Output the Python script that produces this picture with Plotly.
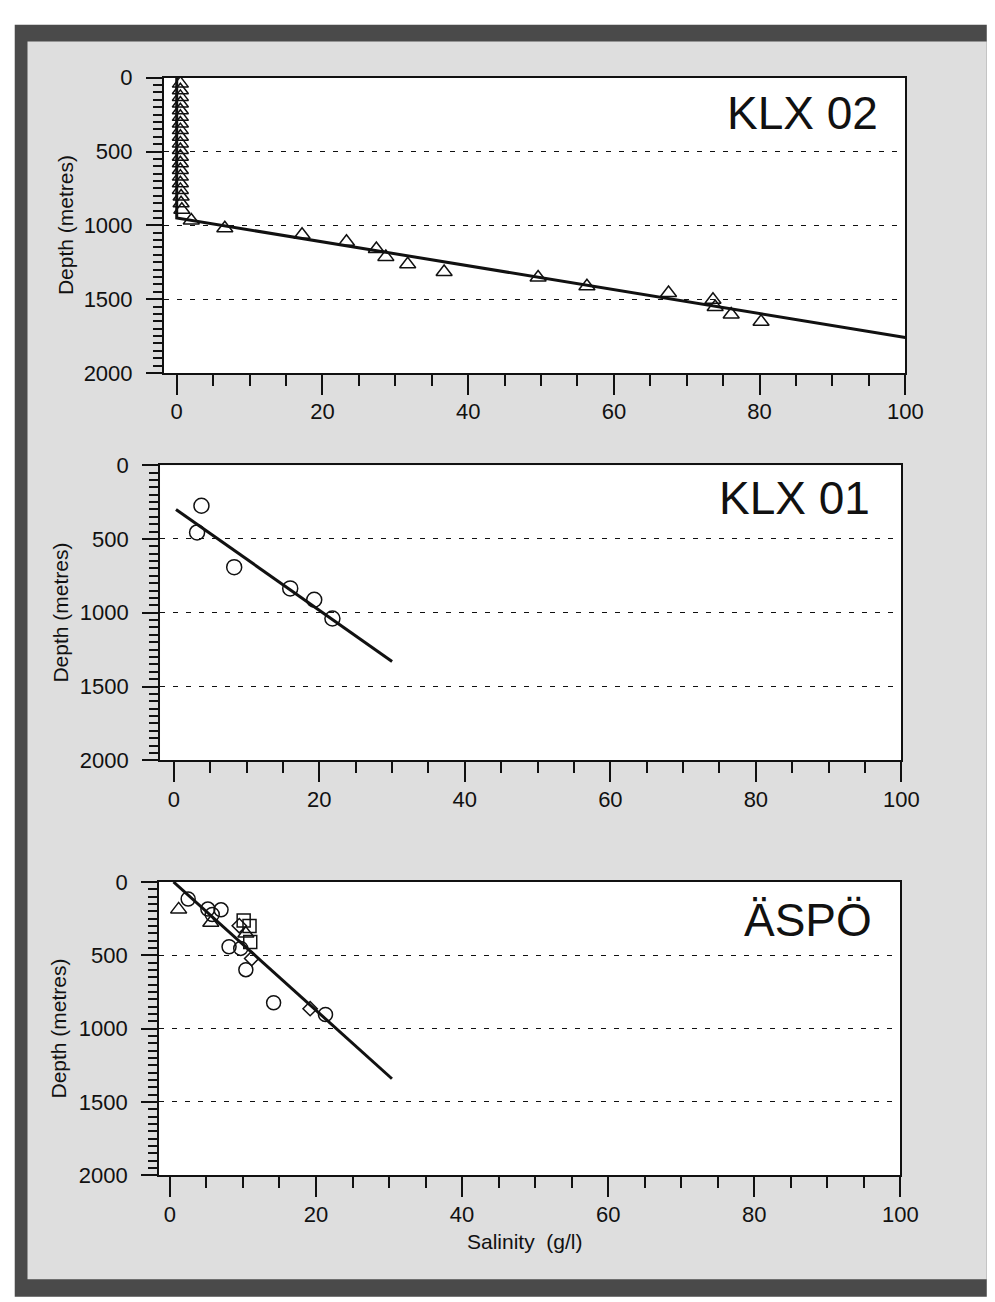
import plotly.graph_objects as go

W, H = 995, 1302

# ---------------- data ----------------
# KLX 02
klx02_col_sal = [0.5, 0.5, 0.5, 0.5, 0.5, 0.5, 0.5, 0.5, 0.5, 0.5,
                 0.5, 0.5, 0.5, 0.5, 0.5, 0.5, 0.5, 0.6, 0.6, 0.7]
klx02_col_depth = [40, 85, 130, 175, 220, 265, 310, 355, 400, 445,
                   490, 535, 580, 625, 670, 715, 760, 805, 850, 895]
klx02_sal = [2.0, 6.6, 17.2, 23.3, 27.4, 28.7, 31.7, 36.7, 49.6, 56.3,
             67.5, 73.6, 73.9, 76.1, 80.2]
klx02_depth = [967, 1020, 1064, 1111, 1160, 1214, 1264, 1316, 1353, 1413,
               1458, 1504, 1553, 1604, 1653]
klx02_fit_sal = [0, 0, 100]
klx02_fit_depth = [0, 950, 1760]

# KLX 01
klx01_sal = [3.8, 3.2, 8.3, 16.0, 19.3, 21.8]
klx01_depth = [275, 456, 691, 835, 912, 1039]
klx01_fit_sal = [0.3, 30.0]
klx01_fit_depth = [300, 1330]

# ÄSPÖ
aspo_circ_sal = [2.5, 5.2, 7.0, 5.8, 8.1, 9.7, 10.4, 14.2, 21.3]
aspo_circ_depth = [116, 185, 190, 222, 442, 453, 598, 824, 904]
aspo_tri_sal = [1.2, 5.6, 10.4]
aspo_tri_depth = [187, 278, 352]
aspo_sq_sal = [10.1, 10.9, 11.0]
aspo_sq_depth = [262, 300, 410]
aspo_dia_sal = [9.5, 11.2, 19.2]
aspo_dia_depth = [298, 522, 864]
aspo_fit_sal = [0.5, 30.4]
aspo_fit_depth = [0, 1342]

x_ticks = [0, 20, 40, 60, 80, 100]
y_ticks = [0, 500, 1000, 1500, 2000]
panel_names = ["KLX 02", "KLX 01", "ÄSPÖ"]

# ---------------- layout geometry (pixels) ----------------
panels = [
    dict(x0=167, x1=922, y0=67, y1=368, xmin=-1.75),
    dict(x0=163, x1=918, y0=462, y1=763, xmin=-1.89),
    dict(x0=162, x1=917, y0=887, y1=1186, xmin=-1.48),
]

FONT = "Liberation Sans, Arial, Helvetica, sans-serif"
INK = "#111111"

def fx(px):
    return px / W

def fy(py):
    return 1 - py / H

fig = go.Figure()

line_style = dict(color=INK, width=3)

fig.add_trace(go.Scatter(x=klx02_fit_sal, y=klx02_fit_depth, mode="lines",
                         line=line_style, xaxis="x", yaxis="y", showlegend=False))
fig.add_trace(go.Scatter(x=klx02_col_sal, y=klx02_col_depth, mode="markers",
                         marker=dict(symbol="triangle-up-open", size=14, color=INK,
                                     line=dict(width=1.5)),
                         xaxis="x", yaxis="y", showlegend=False))
fig.add_trace(go.Scatter(x=klx02_sal, y=klx02_depth, mode="markers",
                         marker=dict(symbol="triangle-up-open", size=14, color=INK,
                                     line=dict(width=1.5)),
                         xaxis="x", yaxis="y", showlegend=False))

fig.add_trace(go.Scatter(x=klx01_fit_sal, y=klx01_fit_depth, mode="lines",
                         line=line_style, xaxis="x2", yaxis="y2", showlegend=False))
fig.add_trace(go.Scatter(x=klx01_sal, y=klx01_depth, mode="markers",
                         marker=dict(symbol="circle-open", size=15, color=INK,
                                     line=dict(width=1.5)),
                         xaxis="x2", yaxis="y2", showlegend=False))

fig.add_trace(go.Scatter(x=aspo_fit_sal, y=aspo_fit_depth, mode="lines",
                         line=line_style, xaxis="x3", yaxis="y3", showlegend=False))
for xs, ys, sym, sz in [
    (aspo_circ_sal, aspo_circ_depth, "circle-open", 14),
    (aspo_tri_sal, aspo_tri_depth, "triangle-up-open", 14),
    (aspo_sq_sal, aspo_sq_depth, "square-open", 13),
    (aspo_dia_sal, aspo_dia_depth, "diamond-open", 11),
]:
    fig.add_trace(go.Scatter(x=xs, y=ys, mode="markers",
                             marker=dict(symbol=sym, size=sz, color=INK,
                                         line=dict(width=1.5)),
                             xaxis="x3", yaxis="y3", showlegend=False))

layout = dict(
    width=W, height=H,
    margin=dict(l=0, r=0, t=0, b=0),
    paper_bgcolor="white",
    plot_bgcolor="white",
    font=dict(family=FONT, color=INK, size=22),
    showlegend=False,
)

shapes = [
    dict(type="rect", xref="paper", yref="paper", x0=fx(15), x1=1.01, y0=fy(1310), y1=fy(13),
         fillcolor="#4a4a4a", line=dict(width=0), layer="below"),
    dict(type="rect", xref="paper", yref="paper", x0=fx(28), x1=1.01, y0=fy(1292), y1=fy(30),
         fillcolor="#dedede", line=dict(width=0), layer="below"),
]
annotations = []

for i, p in enumerate(panels):
    sfx = "" if i == 0 else str(i + 1)
    layout["xaxis" + sfx] = dict(
        domain=[fx(p["x0"]), fx(p["x1"])],
        anchor="y" + sfx,
        range=[p["xmin"], 100],
        tickmode="array", tickvals=x_ticks, ticktext=[str(v) for v in x_ticks],
        ticks="outside", ticklen=20, tickwidth=2, tickcolor=INK,
        minor=dict(tickmode="linear", tick0=0, dtick=5, ticks="outside", ticklen=11,
                   tickwidth=2, tickcolor=INK, showgrid=False),
        showline=True, linewidth=2, linecolor=INK, mirror=True,
        showgrid=False, zeroline=False,
        tickfont=dict(family=FONT, size=22, color=INK),
        ticklabelstandoff=-2,
    )
    layout["yaxis" + sfx] = dict(
        domain=[fy(p["y1"]), fy(p["y0"])],
        anchor="x" + sfx,
        range=[2000, 0],
        tickmode="array", tickvals=y_ticks, ticktext=[str(v) for v in y_ticks],
        ticks="outside", ticklen=16, tickwidth=2, tickcolor=INK,
        minor=dict(tickmode="linear", tick0=0, dtick=50, ticks="outside", ticklen=9,
                   tickwidth=1.5, tickcolor=INK, showgrid=False),
        showline=True, linewidth=2, linecolor=INK, mirror=True,
        showgrid=True, gridcolor=INK, gridwidth=1, griddash="5px,8px",
        zeroline=False,
        tickfont=dict(family=FONT, size=22, color=INK),
        ticklabelstandoff=9,
    )
    shapes.append(dict(type="rect", xref="paper", yref="paper",
                       x0=fx(p["x0"]), x1=fx(p["x1"]), y0=fy(p["y1"]), y1=fy(p["y0"]),
                       fillcolor="white", line=dict(width=0), layer="below"))
    annotations.append(dict(
        text="Depth (metres)", textangle=-90, xref="paper", yref="paper",
        x=fx([67, 62, 60][i]), y=fy((p["y0"] + p["y1"]) / 2),
        xanchor="center", yanchor="middle", showarrow=False,
        font=dict(family=FONT, size=21, color=INK)))

label_pos = [(896, 103), (888, 496), (890, 926)]
for name, (lx, ly) in zip(panel_names, label_pos):
    annotations.append(dict(
        text=name, xref="paper", yref="paper", x=fx(lx), y=fy(ly),
        xanchor="right", yanchor="middle", showarrow=False,
        font=dict(family=FONT, size=46, color=INK)))

annotations.append(dict(
    text="Salinity&nbsp;&nbsp;(g/l)", xref="paper", yref="paper", x=fx(535), y=fy(1254),
    xanchor="center", yanchor="middle", showarrow=False,
    font=dict(family=FONT, size=21, color=INK)))

layout["shapes"] = shapes
layout["annotations"] = annotations
fig.update_layout(**layout)

fig.write_html(
    "out.html",
    config={"displayModeBar": False},
    post_script="document.body.style.margin='0px';document.body.style.overflow='hidden';",
)
